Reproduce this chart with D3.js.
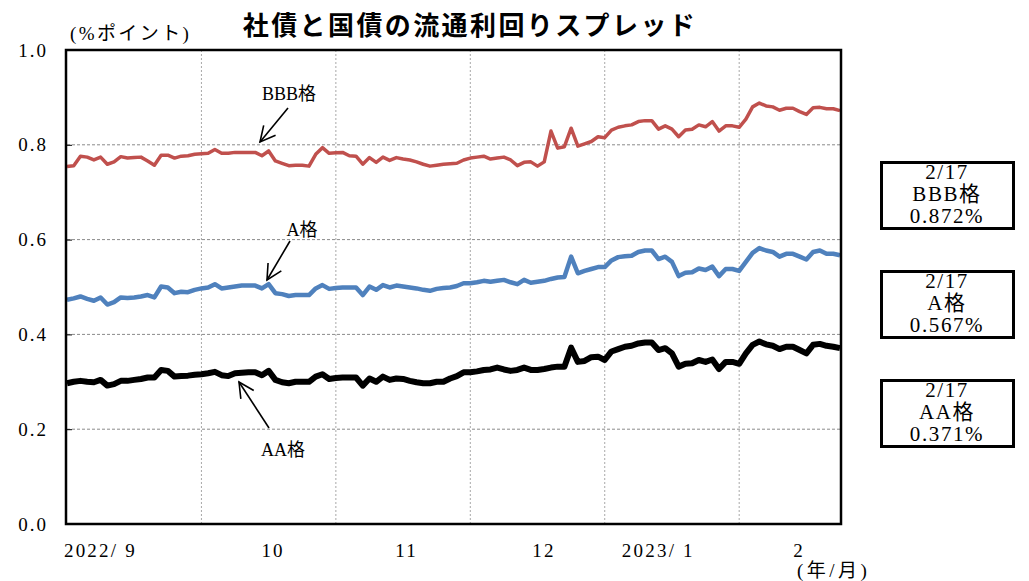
<!DOCTYPE html>
<html>
<head>
<meta charset="utf-8">
<script src="https://cdn.jsdelivr.net/npm/d3@7"></script>
<style>
    body { margin: 0; background: #fff; }
    text { font-family: "Liberation Serif", "Noto Sans CJK JP", serif; }
</style>
</head>
<body>
<div id="chart"></div>
<script>
// spread series (daily business days, 2022/9/1 - 2023/2/17), %pt
var bbb = [
    .754, .756, .776, .774, .768, .774, .759, .764, .775, .772,
    .773, .774, .766, .757, .778, .778, .772, .776, .777, .780,
    .781, .782, .790, .782, .782, .784, .784, .784, .784, .777,
    .787, .766, .761, .756, .757, .757, .755, .780, .794, .782,
    .783, .784, .777, .776, .759, .773, .763, .774, .767, .773,
    .770, .768, .764, .759, .755, .757, .759, .760, .761, .768,
    .772, .774, .776, .770, .772, .774, .768, .756, .763, .764,
    .755, .764, .829, .793, .796, .835, .797, .802, .807, .817,
    .815, .831, .837, .840, .842, .849, .851, .851, .833, .840,
    .833, .817, .831, .833, .842, .838, .849, .829, .840, .840,
    .837, .854, .880, .888, .882, .880, .873, .877, .877, .870,
    .864, .878, .879, .876, .876, .872
];
var aGrade = [
    .473, .476, .480, .475, .471, .478, .463, .468, .478, .477,
    .478, .480, .483, .478, .501, .499, .487, .490, .489, .494,
    .497, .499, .506, .497, .499, .501, .503, .503, .503, .497,
    .506, .487, .485, .481, .483, .483, .483, .497, .504, .496,
    .498, .499, .499, .499, .483, .501, .494, .504, .499, .503,
    .501, .499, .497, .494, .492, .496, .498, .499, .502, .508,
    .508, .510, .513, .511, .513, .515, .510, .506, .515, .509,
    .511, .513, .517, .520, .521, .564, .529, .534, .538, .542,
    .542, .556, .563, .565, .566, .574, .577, .577, .559, .564,
    .553, .523, .530, .531, .539, .536, .543, .523, .538, .538,
    .534, .553, .572, .582, .577, .574, .564, .570, .570, .564,
    .558, .574, .577, .570, .570, .567
];
var aa = [
    .297, .300, .302, .300, .299, .304, .292, .295, .302, .302,
    .304, .306, .309, .309, .325, .323, .311, .312, .313, .315,
    .316, .318, .321, .314, .312, .318, .319, .320, .320, .314,
    .323, .304, .299, .297, .300, .300, .300, .311, .316, .306,
    .308, .309, .309, .309, .292, .307, .300, .311, .304, .307,
    .306, .302, .299, .297, .297, .300, .300, .307, .312, .320,
    .320, .322, .325, .326, .330, .326, .323, .325, .330, .325,
    .325, .327, .330, .332, .332, .372, .342, .344, .352, .353,
    .346, .364, .369, .374, .376, .381, .383, .383, .367, .371,
    .360, .332, .338, .339, .346, .342, .347, .327, .342, .342,
    .338, .360, .378, .385, .379, .376, .369, .374, .374, .367,
    .360, .378, .380, .376, .374, .371
];

var yTicks = [0, 0.2, 0.4, 0.6, 0.8, 1.0];
var monthBreaks = [20, 40, 60, 80, 100];          // first business day of each month (index)
var monthLabels = ['2022/ 9', '10', '11', '12', '2023/ 1', '2'];
var monthLabelAt = [10.4, 32.4, 52.2, 72.7, 93.4, 109.8];
var lastDate = '2/17';
var gradeNames = ['BBB格', 'A格', 'AA格'];
var lastValues = ['0.872%', '0.567%', '0.371%'];

var W = 1029, H = 581;
var margin = {top: 50, right: 188, bottom: 57, left: 66};

var svg = d3.select('#chart')
    .append('svg')
    .attr('width', W)
    .attr('height', H);

var x = d3.scaleLinear()
    .domain([0, bbb.length - 1])
    .range([margin.left + 1, W - margin.right - 1]);

var y = d3.scaleLinear()
    .domain([0, 1])
    .range([H - margin.bottom, margin.top]);

// title
svg.append('text')
    .attr('x', 470)
    .attr('y', 35)
    .attr('text-anchor', 'middle')
    .style('font-family', '"Noto Sans CJK JP", sans-serif')
    .style('font-weight', 'bold')
    .style('font-size', '26px')
    .style('letter-spacing', '2.4px')
    .text('社債と国債の流通利回りスプレッド');

svg.append('text')
    .attr('x', 70)
    .attr('y', 40)
    .style('font-size', '19px')
    .style('letter-spacing', '2.4px')
    .text('(%ポイント)');

// grid
var grid = svg.append('g');
grid.selectAll('.hgrid')
    .data(yTicks.filter(d => d > 0 && d < 1))
    .enter().append('line')
    .attr('x1', x.range()[0]).attr('x2', x.range()[1])
    .attr('y1', d => y(d)).attr('y2', d => y(d))
    .style('stroke', '#8a8a8a')
    .style('stroke-width', 1)
    .style('stroke-dasharray', '3,2');

grid.selectAll('.vgrid')
    .data(monthBreaks)
    .enter().append('line')
    .attr('x1', d => x(d)).attr('x2', d => x(d))
    .attr('y1', y(1)).attr('y2', y(0))
    .style('stroke', '#a8a8a8')
    .style('stroke-width', 1)
    .style('stroke-dasharray', '2,2');

// y axis
var yAxis = d3.axisLeft(y)
    .tickValues(yTicks)
    .tickSize(-6)
    .tickPadding(18)
    .tickFormat(d3.format('.1f'));

var gy = svg.append('g')
    .attr('transform', 'translate(' + margin.left + ',0)')
    .call(yAxis);
gy.select('.domain').remove();
gy.selectAll('line').style('stroke', '#000');
gy.selectAll('text')
    .style('font-family', '"Liberation Serif", serif')
    .style('font-size', '19px')
    .style('letter-spacing', '2px')
    .attr('fill', '#000');

// x labels
svg.selectAll('.mlabel')
    .data(monthLabels)
    .enter().append('text')
    .attr('x', (d, i) => x(monthLabelAt[i]))
    .attr('y', 557)
    .attr('text-anchor', 'end')
    .style('font-size', '19px')
    .style('letter-spacing', '2.2px')
    .text(d => d);

svg.append('text')
    .attr('x', 797)
    .attr('y', 577)
    .style('font-size', '19px')
    .style('letter-spacing', '3.5px')
    .text('(年/月)');

// lines
var line = d3.line()
    .x((d, i) => x(i))
    .y(d => y(d));

var series = [
    {values: bbb, color: '#C0504D', width: 3.5},
    {values: aGrade, color: '#4F81BD', width: 4.5},
    {values: aa, color: '#000000', width: 6}
];

svg.selectAll('.series')
    .data(series)
    .enter().append('path')
    .attr('d', d => line(d.values))
    .style('fill', 'none')
    .style('stroke', d => d.color)
    .style('stroke-width', d => d.width)
    .style('stroke-linejoin', 'round');

// frame
svg.append('rect')
    .attr('x', margin.left)
    .attr('y', margin.top)
    .attr('width', W - margin.left - margin.right)
    .attr('height', H - margin.top - margin.bottom)
    .style('fill', 'none')
    .style('stroke', '#000')
    .style('stroke-width', 2.5);

// annotations
function arrow(x1, y1, x2, y2) {
    var ang = Math.atan2(y1 - y2, x1 - x2);
    var len = 17, spread = 0.47;
    var g = svg.append('g').style('stroke', '#000').style('stroke-width', 1.6).style('fill', 'none');
    g.append('line').attr('x1', x1).attr('y1', y1).attr('x2', x2).attr('y2', y2);
    g.append('polyline').attr('points', [
        [x2 + len * Math.cos(ang + spread), y2 + len * Math.sin(ang + spread)],
        [x2, y2],
        [x2 + len * Math.cos(ang - spread), y2 + len * Math.sin(ang - spread)]
    ].map(p => p.join(',')).join(' '));
}

var notes = [
    {text: gradeNames[0], tx: 289, ty: 100, from: [288, 108], to: [260, 142]},
    {text: gradeNames[1], tx: 302, ty: 236, from: [290, 241], to: [267, 280]},
    {text: gradeNames[2], tx: 283, ty: 456, from: [269, 428], to: [239, 382]}
];
notes.forEach(function (n) {
    svg.append('text')
        .attr('x', n.tx)
        .attr('y', n.ty)
        .attr('text-anchor', 'middle')
        .style('font-size', '18px')
        .text(n.text);
    arrow(n.from[0], n.from[1], n.to[0], n.to[1]);
});

// latest value boxes
var boxTop = [162.5, 271.5, 380.5];
boxTop.forEach(function (top, i) {
    var g = svg.append('g');
    g.append('rect')
        .attr('x', 881.5)
        .attr('y', top)
        .attr('width', 132)
        .attr('height', 66)
        .style('fill', '#fff')
        .style('stroke', '#000')
        .style('stroke-width', 3);
    [lastDate, gradeNames[i], lastValues[i]].forEach(function (t, k) {
        g.append('text')
            .attr('x', 947)
            .attr('y', top + 16 + k * 22)
            .attr('text-anchor', 'middle')
            .style('font-size', '21px')
            .style('letter-spacing', '1.6px')
            .text(t);
    });
});
</script>
</body>
</html>
